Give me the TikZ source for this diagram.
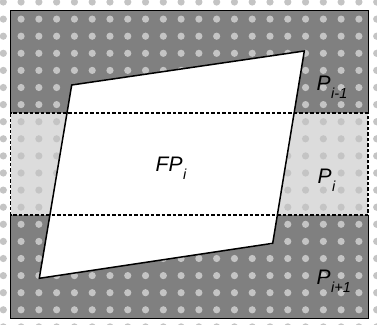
\documentclass[tikz,border=0pt]{standalone}
\usepackage{fontspec}
\setmainfont{Liberation Sans}
\definecolor{darkfill}{HTML}{808080}
\definecolor{bandfill}{HTML}{DCDCDC}
\definecolor{dotgray}{HTML}{C4C4C4}
% label with a lowered, smaller subscript
\newcommand{\partlabel}[2]{\itshape #1\hspace{0.5pt}\raisebox{-8pt}{\fontsize{14.5}{15}\selectfont #2}}
\begin{document}
\begin{tikzpicture}[x=1pt,y=-1pt,
  outline/.style={draw=black,line width=1pt},
  bandedge/.style={draw=black,line width=1.3pt,dash pattern=on 3.5pt off 2pt},
  region/.style={fill=white,draw=black,line width=1.5pt,line join=miter},
  tag/.style={anchor=base west,inner sep=0pt,font=\fontsize{21}{22}\selectfont}]
\useasboundingbox (0,0) rectangle (377,324);
\clip (0,0) rectangle (377,324);
\fill[white] (0,0) rectangle (377,324);

% frame corners and band limits
\coordinate (NW) at (10.5,10.5);
\coordinate (SE) at (368,318);
\coordinate (bandNW) at (10.5,113);
\coordinate (bandSE) at (368,215);

% partitions
\fill[darkfill] (NW) rectangle (SE);
\fill[bandfill] (bandNW) rectangle (bandSE);

% dotted texture
\foreach \i in {0,...,21}
  \foreach \j in {0,...,19}
    \fill[dotgray] ({3.3+17.78*\i},{2+17.1*\j}) circle (3.6);

% the footprint quadrilateral
\coordinate (q1) at (71.7,85);
\coordinate (q2) at (304.3,51);
\coordinate (q3) at (272.7,243.3);
\coordinate (q4) at (39.3,278.3);
\path[region] (q1) -- (q2) -- (q3) -- (q4) -- cycle;

% outer frame of the upper and lower partitions
\draw[outline] (bandNW) -- (NW) -- (368,10.5) -- (368,113);
\draw[outline] (10.5,215) -- (10.5,318) -- (SE) -- (bandSE);

% middle partition, dashed
\draw[bandedge] (bandNW) rectangle (bandSE);

% labels
\node[tag] (pprev) at (316.5,90) {\partlabel{P}{i-1}};
\node[tag] (pcur) at (317.5,183) {\partlabel{P}{i}};
\node[tag] (pnext) at (316.5,284) {\partlabel{P}{i+1}};
\node[tag] (fp) at (155.5,171) {\partlabel{FP}{i}};
\end{tikzpicture}
\end{document}
